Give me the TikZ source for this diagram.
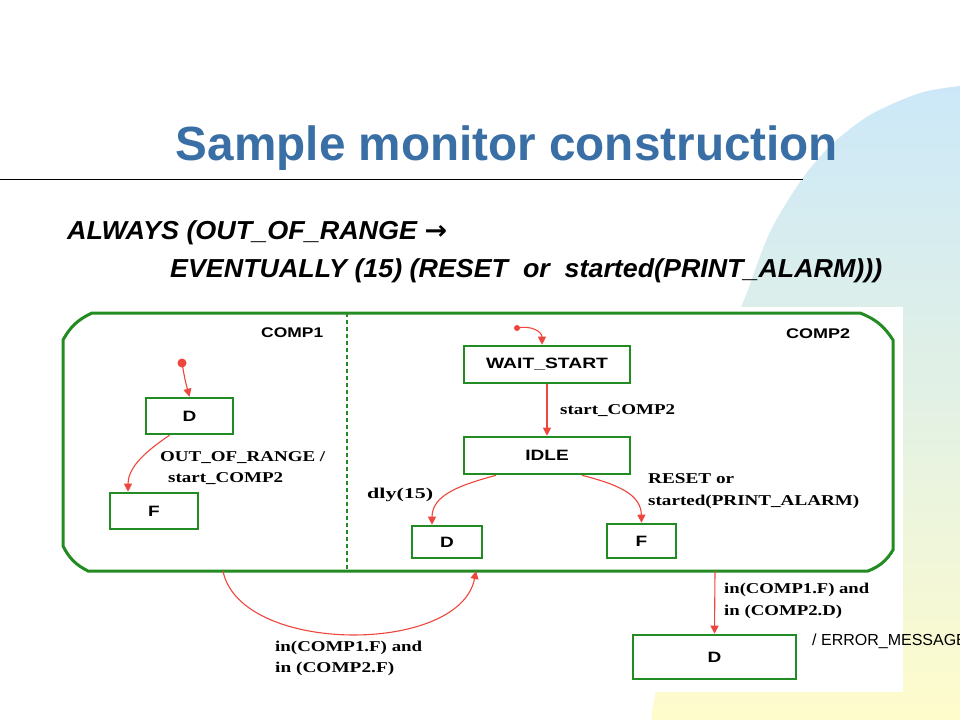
\documentclass[tikz,border=0pt]{standalone}
\usepackage{fontspec}
\setmainfont{Liberation Serif}
\newfontfamily\arial{Liberation Sans}
\newfontfamily\dejavu{DejaVu Sans}
\usetikzlibrary{arrows.meta,calc}
\definecolor{titleblue}{RGB}{58,111,166}
\definecolor{sgreen}{RGB}{34,139,34}
\definecolor{ared}{RGB}{238,70,60}
\definecolor{bgblue}{RGB}{204,232,248}
\definecolor{bgyellow}{RGB}{255,252,204}
\newcommand\fitw[2]{\resizebox{#1pt}{\height}{#2}}
\newcommand\bxs[1]{\scalebox{1.27}[1]{#1}}
\begin{document}
\begin{tikzpicture}[x=1pt,y=-1pt,
  statebox/.style={draw=sgreen, line width=2.6pt, fill=white, inner sep=0pt,
    font=\arial\bfseries\fontsize{15}{15}\selectfont},
  lbl/.style={anchor=base west, inner sep=0pt, font=\bfseries\fontsize{15}{15}\selectfont},
  complbl/.style={anchor=base west, inner sep=0pt, font=\arial\bfseries\fontsize{14}{14}\selectfont},
  trans/.style={draw=ared, line width=1.1pt, -{Triangle[length=8pt,width=8pt]}},
  formula/.style={anchor=base west, inner sep=0pt, font=\arial\bfseries\itshape\fontsize{26}{26}\selectfont}]
\useasboundingbox (0,0) rectangle (960,720);
\fill[white] (0,0) rectangle (960,720);
% background shape
\shade[top color=bgblue, bottom color=bgyellow, middle color=bgblue!55!bgyellow]
  plot[smooth] coordinates {(960,86) (920,93) (870,115) (830,146) (800,182) (770,232) (748,290) (735,330) (700,500) (656,691) (652,720)} -- (960,720) -- cycle;
\fill[white] (57,307) rectangle (903,692);
% title
\node[anchor=base, inner sep=0pt, text=titleblue, font=\arial\bfseries\fontsize{48}{48}\selectfont] (title) at (507,160) {\fitw{662}{Sample monitor construction}};
\draw[black, line width=1pt] (0,179) -- (803,179);
\node[formula] (f1) at (67,239) {\fitw{380}{ALWAYS (OUT\_OF\_RANGE {\dejavu\bfseries →}}};
\node[formula] (f2) at (170,277) {\fitw{712}{EVENTUALLY (15) (RESET\ \ or\ \ started(PRINT\_ALARM)))}};
% container
\draw[sgreen, line width=3pt] (92,313) -- (860,313) to[bend left=18] (893,340) -- (893,550) to[bend left=18] (868,571) -- (88,571) to[bend left=18] (63,546) -- (63,340) to[bend left=18] (92,313) -- cycle;
\draw[sgreen, line width=2pt, dash pattern=on 4pt off 3pt] (347,313) -- (347,571);
\node[complbl] (c1) at (261,337) {\fitw{62}{COMP1}};
\node[complbl] (c2) at (786,338) {\fitw{64}{COMP2}};
% states
\node[statebox, minimum width=87pt, minimum height=36pt] (D1) at (189.5,416) {\bxs{D}};
\node[statebox, minimum width=88pt, minimum height=36pt] (F1) at (154,511) {\bxs{F}};
\node[statebox, minimum width=166pt, minimum height=37pt] (WS) at (547,364.5) {\fitw{122}{WAIT\_START}};
\node[statebox, minimum width=166pt, minimum height=37pt] (IDLE) at (547,455.5) {\bxs{IDLE}};
\node[statebox, minimum width=70pt, minimum height=32pt] (D2) at (447,542) {\bxs{D}};
\node[statebox, minimum width=69pt, minimum height=34pt] (F2) at (641.5,541) {\bxs{F}};
\node[statebox, minimum width=163pt, minimum height=44pt] (D3) at (714.5,657) {\bxs{D}};
% coordinates
\coordinate (i1) at (182,363);
\coordinate (i2) at (517,328);
\coordinate (cbl) at (223,571);
\coordinate (cbr) at (476,571);
\coordinate (cbd) at (715,571);
\fill[ared] (i1) circle (4.5pt);
\fill[ared] (i2) circle (3pt);
% transitions
\draw[trans] (i1) .. controls (185,380) .. (D1.north);
\draw[trans] ($(D1.south)+(-20,0)$) .. controls (140,455) and (128,470) .. ($(F1.north)+(-26,0)$);
\draw[trans] (i2) .. controls (532,325) and (542,332) .. ($(WS.north)+(-5,0)$);
\draw[trans] (WS.south) -- (IDLE.north);
\draw[trans] ($(IDLE.south)+(-51,0)$) .. controls (460,485) and (432,495) .. ($(D2.north)+(-15,0)$);
\draw[trans] ($(IDLE.south)+(35,0)$) .. controls (620,485) and (641,495) .. (F2.north);
\draw[trans] (cbl) .. controls (240,655) and (460,655) .. (cbr);
\draw[trans] (cbd) -- (D3.north);
% labels
\node[lbl] (l1) at (160,461) {\fitw{165}{OUT\_OF\_RANGE /}};
\node[lbl] (l2) at (168,482) {\fitw{115}{start\_COMP2}};
\node[lbl] (l3) at (560,414) {\fitw{115}{start\_COMP2}};
\node[lbl] (l4) at (367,498) {\fitw{66}{dly(15)}};
\node[lbl] (l5) at (648,483) {\fitw{86}{RESET or}};
\node[lbl] (l6) at (648,505) {\fitw{211}{started(PRINT\_ALARM)}};
\node[lbl] (l7) at (275,651) {\fitw{147}{in(COMP1.F) and}};
\node[lbl] (l8) at (275,672) {\fitw{119}{in (COMP2.F)}};
\node[lbl] (l9) at (724,593) {\fitw{145}{in(COMP1.F) and}};
\node[lbl] (l10) at (724,615) {\fitw{118}{in (COMP2.D)}};
\node[anchor=base west, inner sep=0pt, font=\arial\fontsize{16}{16}\selectfont] (err) at (812,645) {/ ERROR\_MESSAGE};
\end{tikzpicture}
\end{document}
